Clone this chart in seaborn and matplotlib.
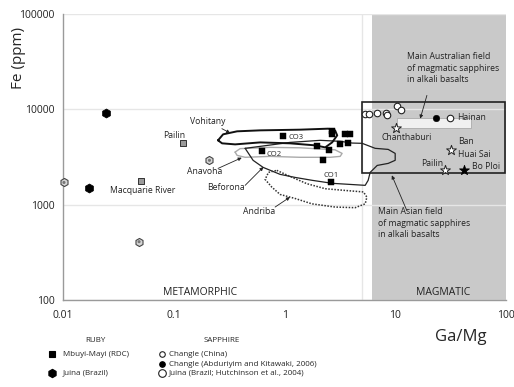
import matplotlib
matplotlib.use("Agg")
import matplotlib.pyplot as plt
import seaborn as sns
import pandas as pd
from matplotlib.patches import Rectangle
from matplotlib.lines import Line2D

# ---- data (Ga/Mg, Fe ppm) ----
mbuyi_ga_mg = [0.97, 0.62, 2.7, 2.7, 3.5, 3.9, 1.95, 3.16, 3.73, 2.53, 2.24, 2.65]
mbuyi_fe = [5210, 3690, 5950, 5550, 5450, 5550, 4120, 4360, 4420, 3780, 2970, 1710]

grey_ruby_ga_mg = [0.12, 0.0504]          # Pailin, Macquarie River
grey_ruby_fe = [4430, 1770]

juina_ruby_ga_mg = [0.0244, 0.0173]
juina_ruby_fe = [9150, 1490]

juina_sapph_ga_mg = [0.0102, 0.21, 0.0486]
juina_sapph_fe = [1710, 2920, 409]

changle_ga_mg = [5.35, 5.8, 6.8, 8.2, 8.5, 10.3, 11.3, 30.9]
changle_fe = [9000, 8930, 9230, 9150, 8650, 10930, 9760, 8180]

changle_abd_ga_mg = [23.4]
changle_abd_fe = [8180]

open_star_ga_mg = [10.1, 31.8, 28.2]       # Chanthaburi, Ban Huai Sai, Pailin
open_star_fe = [6370, 3780, 2290]
filled_star_ga_mg = [41.9]                 # Bo Ploi
filled_star_fe = [2330]

# field outlines
vohitany_ga_mg = [0.251, 0.279, 0.373, 0.603, 1.38, 2.48, 2.86, 2.99, 2.69, 2.33, 1.89, 1.12, 0.603, 0.358, 0.273, 0.251]
vohitany_fe = [4730, 5470, 5880, 6020, 6120, 6270, 6020, 5330, 4500, 3990, 4190, 4400, 4500, 4290, 4400, 4730]

anavoha_ga_mg = [0.358, 0.397, 0.741, 1.38, 2.86, 3.31, 3.18, 2.58, 1.38, 0.741, 0.441, 0.373, 0.358]
anavoha_fe = [3560, 3870, 3990, 3950, 3760, 3450, 3210, 3140, 3140, 3210, 3140, 3290, 3560]

beforona_ga_mg = [0.441, 0.520, 0.641, 0.912, 1.25, 1.78, 2.69, 5.35, 5.69, 5.93, 6.87, 8.63, 9.98, 9.98,
                  8.63, 6.58, 5.02, 4.08, 3.18, 2.10, 1.12, 0.603, 0.441]
beforona_fe = [3900, 2920, 2460, 2080, 1930, 1800, 1675, 1595, 1800, 2180, 2580, 2710, 2920, 3450,
               3800, 3900, 4400, 4430, 4620, 4730, 4500, 4090, 3900]

andriba_ga_mg = [0.851, 1.12, 1.59, 2.33, 3.53, 5.16, 5.54, 5.35, 4.34, 2.86, 1.77, 1.25, 0.912, 0.767, 0.668, 0.716, 0.851]
andriba_fe = [2290, 1980, 1660, 1470, 1410, 1360, 1200, 1020, 930, 944, 1020, 1160, 1280, 1530, 1840, 2180, 2290]

# field boxes
asian_box_ga_mg = [5.0, 98]
asian_box_fe = [2130, 11840]
aus_box_ga_mg = [10.4, 48.5]
aus_box_fe = [6320, 8040]

x_ticks = [0.01, 0.1, 1, 10, 100]
x_tick_labels = ['0.01', '0.1', '1', '10', '100']
y_ticks = [100, 1000, 10000, 100000]
y_tick_labels = ['100', '1000', '10000', '100000']

sns.set_style("white")
plt.rcParams['font.family'] = ['Open Sans', 'DejaVu Sans']

fig = plt.figure(figsize=(5.14, 3.87), dpi=100)
ax = fig.add_axes([0.1226, 0.2248, 0.8619, 0.739])
ax.set_xscale('log')
ax.set_yscale('log')
ax.set_xlim(0.01, 100)
ax.set_ylim(100, 100000)

# background: magmatic field and light guides
ax.axvspan(6.2, 100, color='#c9c9c9', zorder=0, lw=0)
ax.axvline(5, color='#e6e6e6', lw=1, zorder=0.4)
ax.set_axisbelow(True)
ax.yaxis.grid(True, color='#e6e6e6', lw=1)
ax.xaxis.grid(False)

# fields
ax.add_patch(Rectangle((asian_box_ga_mg[0], asian_box_fe[0]), asian_box_ga_mg[1] - asian_box_ga_mg[0],
                       asian_box_fe[1] - asian_box_fe[0], fill=False, ec='#222222', lw=1.2, zorder=2))
ax.add_patch(Rectangle((aus_box_ga_mg[0], aus_box_fe[0]), aus_box_ga_mg[1] - aus_box_ga_mg[0],
                       aus_box_fe[1] - aus_box_fe[0], fc='#f0f0f0', ec='#aaaaaa', lw=0.6, zorder=2))

ax.plot(anavoha_ga_mg, anavoha_fe, color='#aaaaaa', lw=1.0, zorder=2)
ax.plot(beforona_ga_mg, beforona_fe, color='#222222', lw=0.9, zorder=2)
ax.plot(vohitany_ga_mg, vohitany_fe, color='#111111', lw=1.4, zorder=2)
ax.plot(andriba_ga_mg, andriba_fe, color='#333333', lw=1.1, ls=(0, (1, 1)), zorder=2)

# points
sns.scatterplot(x=mbuyi_ga_mg, y=mbuyi_fe, marker='s', s=16, color='black', edgecolor='black', ax=ax, zorder=4)
sns.scatterplot(x=grey_ruby_ga_mg, y=grey_ruby_fe, marker='s', s=16, color='#9a9a9a', edgecolor='#333333',
                linewidth=0.7, ax=ax, zorder=4)
sns.scatterplot(x=juina_ruby_ga_mg, y=juina_ruby_fe, marker='h', s=42, color='black', edgecolor='black', ax=ax, zorder=4)
sns.scatterplot(x=juina_sapph_ga_mg, y=juina_sapph_fe, marker='h', s=34, color='#d6d6d6', edgecolor='#444444',
                linewidth=0.8, ax=ax, zorder=4, clip_on=False)
sns.scatterplot(x=juina_sapph_ga_mg, y=juina_sapph_fe, marker='o', s=5, color='#777777', edgecolor='none',
                ax=ax, zorder=5, clip_on=False)
sns.scatterplot(x=changle_ga_mg, y=changle_fe, marker='o', s=22, color='white', edgecolor='#222222',
                linewidth=0.8, ax=ax, zorder=4)
sns.scatterplot(x=changle_abd_ga_mg, y=changle_abd_fe, marker='o', s=22, color='black', edgecolor='black', ax=ax, zorder=4)
sns.scatterplot(x=open_star_ga_mg, y=open_star_fe, marker='*', s=55, color='white', edgecolor='#222222',
                linewidth=0.7, ax=ax, zorder=4)
sns.scatterplot(x=filled_star_ga_mg, y=filled_star_fe, marker='*', s=55, color='black', edgecolor='black', ax=ax, zorder=4)

# labels
lbl = dict(fontsize=6.2, color='#222222', zorder=6)
ax.text(0.1017, 5330, 'Pailin', ha='center', va='center', **lbl)
ax.text(0.0266, 1410, 'Macquarie River', ha='left', va='center', **lbl)
ax.text(1.08, 5080, 'CO3', ha='left', va='center', fontsize=5.5, zorder=6)
ax.text(0.692, 3370, 'CO2', ha='left', va='center', fontsize=5.5, zorder=6)
ax.text(2.65, 2030, 'CO1', ha='center', va='center', fontsize=5.5, zorder=6)
ax.text(36.0, 8240, 'Hainan', ha='left', va='center', **lbl)
ax.text(12.8, 5080, 'Chanthaburi', ha='center', va='center', **lbl)
ax.text(37.2, 4620, 'Ban', ha='left', va='center', **lbl)
ax.text(37.2, 3370, 'Huai Sai', ha='left', va='center', **lbl)
ax.text(27.2, 2710, 'Pailin', ha='right', va='center', **lbl)
ax.text(49.2, 2520, 'Bo Ploi', ha='left', va='center', **lbl)
ax.text(0.173, 120, 'METAMORPHIC', ha='center', va='center', fontsize=7.5, color='#222222')
ax.text(27.1, 120, 'MAGMATIC', ha='center', va='center', fontsize=7.5, color='#222222')

arrow = dict(arrowstyle='-|>', color='#222222', lw=0.6, mutation_scale=5, shrinkA=0, shrinkB=0)
ax.text(0.204, 7480, 'Vohitany', ha='center', va='center', **lbl)
ax.annotate('', xy=(0.323, 5640), xytext=(0.272, 6270), arrowprops=arrow, zorder=6)
ax.text(0.188, 2240, 'Anavoha', ha='center', va='center', **lbl)
ax.annotate('', xy=(0.411, 3110), xytext=(0.251, 2400), arrowprops=arrow, zorder=6)
ax.text(0.296, 1520, 'Beforona', ha='center', va='center', **lbl)
ax.annotate('', xy=(0.644, 2480), xytext=(0.441, 1595), arrowprops=arrow, zorder=6)
ax.text(0.590, 851, 'Andriba', ha='center', va='center', **lbl)
ax.annotate('', xy=(1.12, 1200), xytext=(0.822, 944), arrowprops=arrow, zorder=6)

ax.text(12.7, 39600, 'Main Australian field\nof magmatic sapphires\nin alkali basalts', ha='left', va='top',
        linespacing=1.35, **lbl)
ax.annotate('', xy=(16.8, 7990), xytext=(19.3, 14000), arrowprops=arrow, zorder=6)
ax.text(6.97, 937, 'Main Asian field\nof magmatic sapphires\nin alkali basalts', ha='left', va='top',
        linespacing=1.35, **lbl)
ax.annotate('', xy=(9.31, 2030), xytext=(12.7, 871), arrowprops=arrow, zorder=6)

# axes styling
ax.set_xticks(x_ticks)
ax.set_xticklabels(x_tick_labels)
ax.set_yticks(y_ticks)
ax.set_yticklabels(y_tick_labels)
ax.minorticks_off()
ax.tick_params(axis='x', length=0, pad=7, labelsize=7.5, labelcolor='#222222')
ax.tick_params(axis='y', length=4, color='#e0e0e0', pad=2, labelsize=7.5, labelcolor='#222222')
for side in ['top', 'right']:
    ax.spines[side].set_visible(False)
for side in ['left', 'bottom']:
    ax.spines[side].set_color('#9a9a9a')
    ax.spines[side].set_linewidth(1.0)
ax.set_xlabel('')
ax.set_ylabel('')

fig.text(18 / 514, 1 - 58 / 387, 'Fe (ppm)', rotation=90, ha='center', va='center', fontsize=11)
fig.text(461 / 514, 1 - 337 / 387, 'Ga/Mg', ha='center', va='center', fontsize=12)

# legend drawn by hand
leg_fs = 5.8
fig.text(95 / 514, 1 - 340 / 387, 'RUBY', ha='center', va='center', fontsize=leg_fs)
fig.text(222 / 514, 1 - 340 / 387, 'SAPPHIRE', ha='center', va='center', fontsize=leg_fs)
legend_rows = [
    (52, 63, 354, 's', 4, 'black', 'black', 'Mbuyi-Mayi (RDC)'),
    (52, 63, 373, 'h', 6, 'black', 'black', 'Juina (Brazil)'),
    (162, 169, 354, 'o', 4, 'white', '#222222', 'Changle (China)'),
    (162, 169, 364, 'o', 4, 'black', 'black', 'Changle (Abduriyim and Kitawaki, 2006)'),
    (162, 169, 373, 'o', 5.5, 'white', '#222222', 'Juina (Brazil; Hutchinson et al., 2004)'),
]
for mx, tx, ty, mk, ms, fc, ec, label in legend_rows:
    fig.add_artist(Line2D([mx / 514], [1 - ty / 387], marker=mk, markersize=ms, markerfacecolor=fc,
                          markeredgecolor=ec, markeredgewidth=0.8, ls='none', transform=fig.transFigure))
    fig.text(tx / 514, 1 - ty / 387, label, ha='left', va='center', fontsize=leg_fs)

fig.savefig('out.png', dpi=100)
